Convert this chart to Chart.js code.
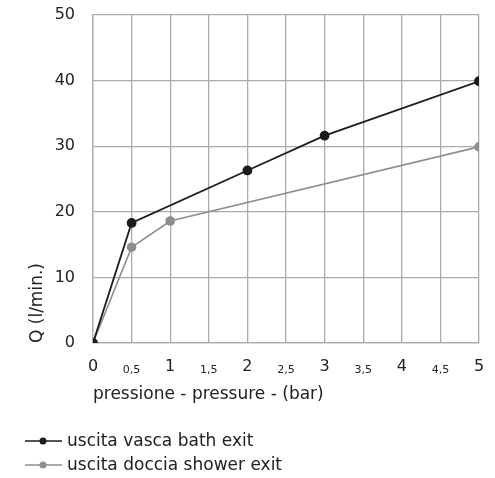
<!DOCTYPE html>
<html>
<head>
<meta charset="utf-8">
<script src="https://cdn.jsdelivr.net/npm/chart.js@4/dist/chart.umd.min.js"></script>
<style>
  html, body { margin: 0; padding: 0; background: #fff; }
  #wrap { width: 495px; height: 478px; }
</style>
</head>
<body>
<div id="wrap"><canvas id="chart"></canvas></div>
<script>
// Data
const pressureVasca = [0, 0.5, 2, 3, 5];
const flowVasca = [0, 18.3, 26.3, 31.6, 39.9];
const pressureDoccia = [0, 0.5, 1, 5];
const flowDoccia = [0, 14.6, 18.6, 29.9];
const seriesLabels = ['uscita vasca bath exit', 'uscita doccia shower exit'];
const seriesColors = ['#1c1c1c', '#8e8e8e'];

const FONT = 'DejaVu Sans';
const GRID = '#ababab';
const TEXT = '#222';

function toPoints(xs, ys) {
  return xs.map((x, i) => ({ x: x, y: ys[i] }));
}

// Legend drawn as line + dot markers, one entry per row
const lineLegend = {
  id: 'lineLegend',
  afterDraw(chart) {
    const ctx = chart.ctx;
    ctx.save();
    chart.data.datasets.forEach((ds, i) => {
      const y = chart.height - 37 + i * 24;
      const x0 = 25;
      ctx.strokeStyle = ds.borderColor;
      ctx.lineWidth = 1.6;
      ctx.beginPath();
      ctx.moveTo(x0, y);
      ctx.lineTo(x0 + 37, y);
      ctx.stroke();
      ctx.fillStyle = ds.borderColor;
      ctx.beginPath();
      ctx.arc(x0 + 18, y, 3.5, 0, Math.PI * 2);
      ctx.fill();
      ctx.fillStyle = TEXT;
      ctx.font = '17px "' + FONT + '"';
      ctx.textBaseline = 'middle';
      ctx.fillText(ds.label, x0 + 42, y + 1);
    });
    ctx.restore();
  }
};

new Chart(document.getElementById('chart'), {
  type: 'line',
  data: {
    datasets: [
      {
        label: seriesLabels[0],
        data: toPoints(pressureVasca, flowVasca),
        borderColor: seriesColors[0],
        backgroundColor: seriesColors[0],
        borderWidth: 1.8,
        pointRadius: 4,
        pointHoverRadius: 4,
        tension: 0
      },
      {
        label: seriesLabels[1],
        data: toPoints(pressureDoccia, flowDoccia),
        borderColor: seriesColors[1],
        backgroundColor: seriesColors[1],
        borderWidth: 1.6,
        pointRadius: 4,
        pointHoverRadius: 4,
        tension: 0
      }
    ]
  },
  options: {
    responsive: true,
    maintainAspectRatio: false,
    animation: false,
    layout: { padding: { top: 15, right: 16, left: 22, bottom: 65 } },
    plugins: {
      legend: { display: false },
      tooltip: { enabled: false }
    },
    scales: {
      x: {
        type: 'linear',
        min: 0,
        max: 5,
        afterFit: (scale) => {
          scale.height = 70;
          scale.paddingLeft = 0;
          scale.paddingRight = 0;
        },
        grid: { color: GRID, lineWidth: 1.3, drawTicks: false },
        border: { color: GRID, width: 1.3 },
        ticks: {
          stepSize: 0.5,
          padding: 14,
          color: TEXT,
          maxRotation: 0,
          autoSkip: false,
          font: (ctx) => {
            const big = ctx.tick && Number.isInteger(ctx.tick.value);
            return { family: FONT, size: big ? 16 : 11, lineHeight: big ? 1.2 : 2.3 };
          },
          callback: (v) => Number.isInteger(v) ? String(v) : String(v).replace('.', ',')
        },
        title: {
          display: true,
          text: 'pressione - pressure - (bar)',
          align: 'start',
          color: TEXT,
          font: { family: FONT, size: 17 },
          padding: { top: 0, bottom: 8 }
        }
      },
      y: {
        min: 0,
        max: 50,
        afterFit: (scale) => {
          scale.width = 71;
          scale.paddingTop = 0;
          scale.paddingBottom = 0;
        },
        grid: { color: GRID, lineWidth: 1.3, drawTicks: false },
        border: { color: GRID, width: 1.3 },
        ticks: {
          stepSize: 10,
          padding: 18,
          color: TEXT,
          font: { family: FONT, size: 16 }
        },
        title: {
          display: true,
          text: 'Q (l/min.)',
          align: 'start',
          color: TEXT,
          font: { family: FONT, size: 17 },
          padding: { top: 5, bottom: 0 }
        }
      }
    }
  },
  plugins: [lineLegend]
});
</script>
</body>
</html>
